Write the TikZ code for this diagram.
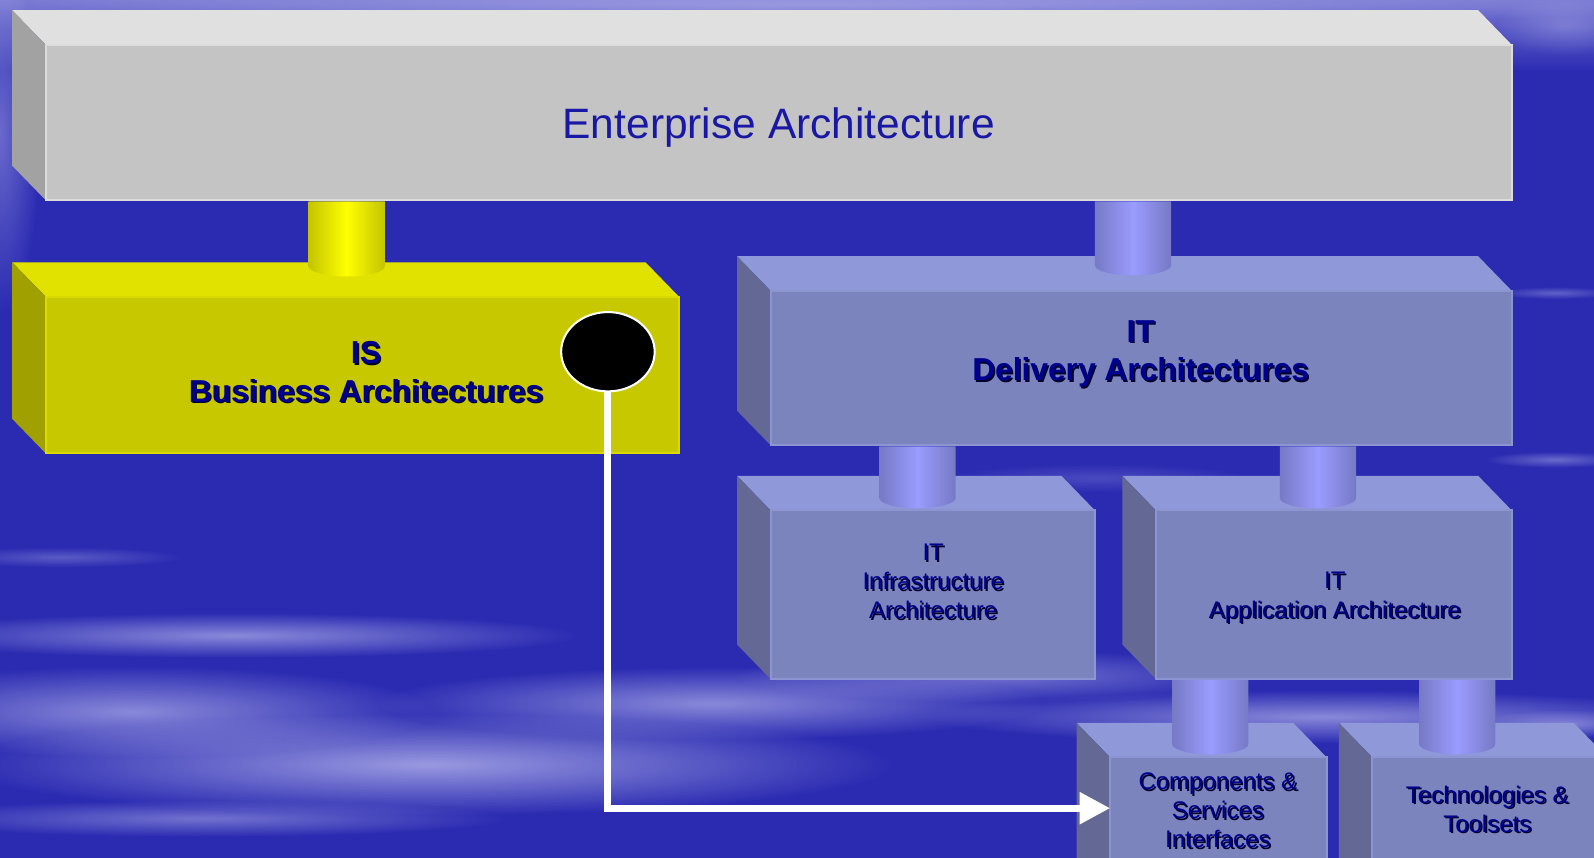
\documentclass[tikz,border=0pt]{standalone}
\usepackage{fontspec}
\setmainfont{Liberation Sans}
\usetikzlibrary{arrows.meta,fadings,shapes.geometric}

\definecolor{bgblue}{HTML}{2B2BB2}
\definecolor{bgtop}{HTML}{7676D2}
\definecolor{cloudtint}{HTML}{C8C8F4}
\definecolor{greytop}{HTML}{E0E0E0}
\definecolor{greyfront}{HTML}{C4C4C4}
\definecolor{greyside}{HTML}{A2A2A2}
\definecolor{greyedge}{HTML}{DCDCDC}
\definecolor{yeltop}{HTML}{E2E200}
\definecolor{yelfront}{HTML}{C8C800}
\definecolor{yelside}{HTML}{A0A000}
\definecolor{yeledge}{HTML}{DADA00}
\definecolor{bluetop}{HTML}{8F98D9}
\definecolor{bluefront}{HTML}{7B84BD}
\definecolor{blueside}{HTML}{636894}
\definecolor{blueedge}{HTML}{8C94D2}
\definecolor{pillaryel}{HTML}{FFFF00}
\definecolor{pillaryeldark}{HTML}{C4C400}
\definecolor{pillarblue}{HTML}{9A9CFF}
\definecolor{pillarbluedark}{HTML}{7679C4}
\definecolor{titleink}{HTML}{1818A4}
\definecolor{labelink}{HTML}{00008E}
\definecolor{labelshade}{HTML}{000028}

\tikzfading[name=softspot, inner color=transparent!0, outer color=transparent!100]

\tikzset{
  face/.style={inner sep=0pt, outer sep=0pt, line width=1pt},
  title/.style={text=titleink, font=\fontsize{20.9}{25}\selectfont},
  boldlabel/.style={align=center, font=\bfseries\fontsize{15.6}{19}\selectfont},
  smalllabel/.style={align=center, font=\fontsize{11.8}{14.3}\selectfont},
  link/.style={draw=white, line width=3.5pt, -{Triangle[length=15pt,width=15pt]}},
  yelpillar/.style={left color=pillaryeldark, right color=pillaryeldark, middle color=pillaryel},
  bluepillar/.style={left color=pillarbluedark, right color=pillarbluedark, middle color=pillarblue},
}

% a block: front face as a named node, with top and left faces behind it
% #1 name, #2 x0, #3 y0, #4 x1, #5 y1, #6 top, #7 front, #8 side, #9 edge
\newcommand\archblock[9]{%
  \fill[#6] ({#2-33},{#3-34}) -- ({#4-33},{#3-34}) -- (#4,#3) -- (#2,#3) -- cycle;
  \fill[#8] ({#2-33},{#3-34}) -- (#2,#3) -- (#2,#5) -- ({#2-33},{#5-34}) -- cycle;
  \node[face, fill=#7, draw=#9, minimum width={(#4-#2)*0.5pt},
        minimum height={(#5-#3)*0.5pt}] (#1) at ({(#2+#4)/2},{(#3+#5)/2}) {};
}

% a round pillar hanging below a block: #1 shading, #2 centre x, #3 top y, #4 lowest y
\newcommand\pillar[4]{%
  \shade[#1] ({#2-37.5},#3) -- ({#2-37.5},{#4-10})
    .. controls ({#2-37.5},{#4-4.5}) and ({#2-20.6},#4) .. (#2,#4)
    .. controls ({#2+20.6},#4) and ({#2+37.5},{#4-4.5}) .. ({#2+37.5},{#4-10})
    -- ({#2+37.5},#3) -- cycle;
}

% a label with a dark drop shadow: #1 name, #2 position (x,y), #3 style, #4 text
\newcommand\shadedlabel[4]{%
  \node[#3, text=labelshade] (#1-shadow) at ([shift={(1.6,1.6)}]#2) {#4};
  \node[#3, text=labelink] (#1) at (#2) {#4};
}

% soft cloud streak: centre x, centre y, x radius, y radius, opacity
\newcommand\cloud[5]{%
  \fill[cloudtint, opacity=#5, path fading=softspot] (#1,#2) ellipse ({#3} and {#4});
}

\begin{document}
\begin{tikzpicture}[x=0.5pt, y=-0.5pt]
\useasboundingbox (0,0) rectangle (1568,844);
\clip (0,0) rectangle (1568,844);

% sky
\fill[bgblue] (0,0) rectangle (1568,844);
\shade[top color=bgtop, bottom color=bgblue] (0,0) rectangle (1568,70);
\cloud{0}{130}{40}{180}{0.4}
\cloud{800}{4}{900}{22}{0.45}
\cloud{1540}{25}{70}{30}{0.3}
\cloud{1530}{288}{60}{6}{0.35}
\cloud{1530}{452}{70}{8}{0.4}
\cloud{1080}{470}{150}{14}{0.2}
\cloud{60}{548}{120}{10}{0.3}
\cloud{230}{625}{340}{22}{0.6}
\cloud{130}{700}{300}{45}{0.6}
\cloud{420}{752}{460}{50}{0.7}
\cloud{700}{692}{330}{36}{0.6}
\cloud{980}{665}{260}{26}{0.45}
\cloud{1300}{705}{390}{26}{0.6}
\cloud{1540}{712}{90}{14}{0.45}
\cloud{200}{805}{300}{18}{0.45}

% blocks
\archblock{ea}{45}{44}{1487}{197}{greytop}{greyfront}{greyside}{greyedge}
\archblock{isb}{45}{292}{668}{446}{yeltop}{yelfront}{yelside}{yeledge}
\archblock{itd}{758}{286}{1487}{438}{bluetop}{bluefront}{blueside}{blueedge}
\archblock{iti}{758}{502}{1077}{668}{bluetop}{bluefront}{blueside}{blueedge}
\archblock{ita}{1137}{502}{1487}{668}{bluetop}{bluefront}{blueside}{blueedge}
\archblock{csi}{1092}{745}{1305}{890}{bluetop}{bluefront}{blueside}{blueedge}
\archblock{tts}{1350}{745}{1581}{890}{bluetop}{bluefront}{blueside}{blueedge}

% pillars joining the levels
\pillar{yelpillar}{341}{198}{272}
\pillar{bluepillar}{1114.5}{198}{271}
\pillar{bluepillar}{902.5}{439}{500}
\pillar{bluepillar}{1296.5}{439}{500}
\pillar{bluepillar}{1190.5}{669}{742}
\pillar{bluepillar}{1433.5}{669}{742}

% labels
\node[title] (ea-label) at (766,125) {Enterprise Architecture};
\shadedlabel{isb-label}{360,366}{boldlabel}{IS\\Business Architectures}
\shadedlabel{itd-label}{1122,348}{boldlabel}{IT\\Delivery Architectures}
\shadedlabel{iti-label}{918,572}{smalllabel}{IT\\Infrastructure\\Architecture}
\shadedlabel{ita-label}{1313,588}{smalllabel}{IT\\Application Architecture}
\shadedlabel{csi-label}{1198,797}{smalllabel}{Components \&\\Services\\Interfaces}
\shadedlabel{tts-label}{1463,796}{smalllabel}{Technologies \&\\Toolsets}

% link from the business layer to the component interfaces
\coordinate (csi-in) at (csi.west |- 0,795);
\node[ellipse, fill=black, draw=white, line width=1pt, minimum width=46pt,
      minimum height=39pt, inner sep=0pt] (dot) at (598,346) {};
\draw[link] (dot.south) |- (csi-in);
\end{tikzpicture}
\end{document}
